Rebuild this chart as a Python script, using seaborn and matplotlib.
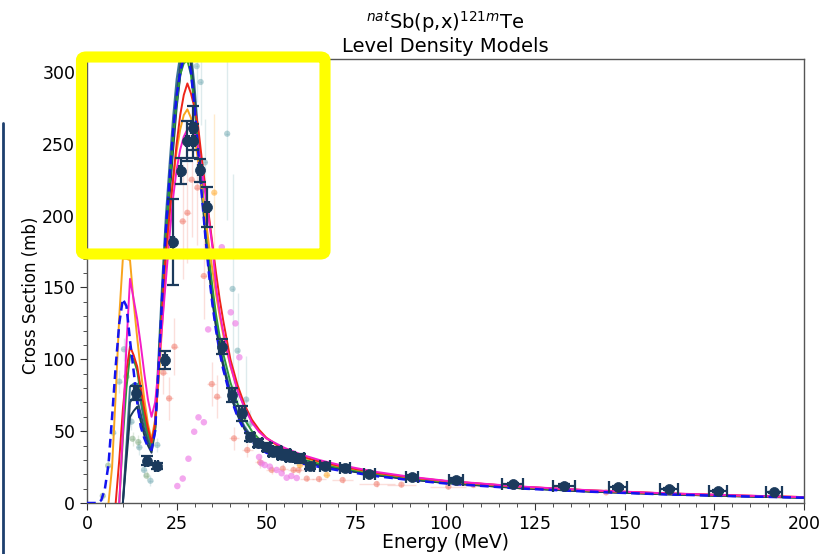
import numpy as np
import pandas as pd
import matplotlib
matplotlib.use("Agg")
import matplotlib.pyplot as plt
from matplotlib.patches import FancyBboxPatch
from matplotlib.lines import Line2D
from matplotlib.ticker import MultipleLocator
import seaborn as sns

# ---------------- data ----------------
# model energy grid (MeV)
grid_E = [0, 2, 3, 4, 5, 6, 7, 8, 9, 10, 11, 12, 13, 14, 15, 16, 17, 18, 19, 20,
          21, 22, 23, 24, 25, 26, 27, 28, 29, 30, 31, 32, 33, 34, 35, 36, 37, 38,
          40, 42, 44, 46, 48, 50, 55, 60, 65, 70, 80, 90, 100, 120, 140, 160, 180, 200]
N = np.nan
ld_navy = [N, N, N, N, N, N, N, N, N, 0, 30, 60, 64, 67, 57, 47, 40, 35, 50, 95,
           140, 180, 212, 245, 275, 297, 311, 316, 305, 278, 248, 216, 188, 162, 140, 122, 107, 95,
           75, 61, 51, 44, 39.5, 36, 31.5, 28.5, 26, 23.5, 19.5, 16.4, 13.9, 10.4, 8.0, 6.2, 4.8, 3.7]
ld_steel = [N, N, N, N, N, N, N, N, N, 0, 40, 81, 83, 83, 70, 56, 45, 39, 55, 105,
            155, 200, 235, 268, 295, 312, 322, 324, 314, 290, 258, 226, 196, 168, 145, 126, 110, 98,
            78, 63, 53, 46, 41, 37, 32.5, 29.2, 26.5, 24, 19.9, 16.7, 14.1, 10.6, 8.1, 6.3, 4.9, 3.8]
ld_slate = [N, N, N, N, N, N, N, N, N, 0, 35, 70, 74, 72, 62, 51, 43, 37, 52, 98,
            146, 188, 222, 255, 285, 305, 318, 321, 310, 284, 253, 221, 192, 165, 142, 124, 108, 96,
            76, 62, 52, 45, 40, 36.5, 32, 28.8, 26.2, 23.8, 19.7, 16.5, 14.0, 10.5, 8.0, 6.2, 4.8, 3.7]
ld_green = [N, N, N, N, N, N, N, N, 0, 45, 80, 103, 100, 92, 75, 60, 48, 40, 52, 95,
            143, 185, 220, 252, 278, 298, 306, 308, 298, 276, 250, 222, 196, 172, 150, 131, 116, 104,
            84, 69, 58, 50, 44.5, 40.5, 34.5, 30.5, 27.3, 24.8, 20.4, 17.2, 14.6, 11.0, 8.5, 6.6, 5.1, 3.9]
ld_red = [N, N, N, N, N, N, N, 0, 30, 65, 92, 109, 103, 95, 80, 65, 52, 42, 55, 95,
          135, 176, 200, 225, 250, 270, 284, 292, 285, 275, 262, 240, 220, 200, 180, 160, 142, 127,
          100, 82, 68, 58, 51, 45.5, 37, 32.3, 28.8, 26, 21.3, 17.9, 15.3, 11.5, 8.8, 6.8, 5.3, 4.1]
ld_orange = [N, N, N, N, N, 0, 25, 75, 130, 170, 170, 169, 140, 115, 92, 72, 55, 44, 58, 85,
             125, 165, 198, 225, 245, 260, 270, 274, 268, 255, 238, 220, 200, 180, 162, 145, 130, 117,
             95, 79, 66, 57, 50, 45, 37, 32, 28.5, 25.7, 21.1, 17.8, 15.2, 11.4, 8.8, 6.8, 5.3, 4.1]
ld_magenta = [N, N, N, N, N, N, N, N, 0, 50, 110, 156, 142, 128, 110, 90, 72, 60, 70, 95,
              125, 155, 185, 212, 232, 246, 255, 260, 262, 258, 248, 232, 215, 197, 178, 150, 133, 119,
              96, 78, 66, 56, 49.5, 45, 38.5, 33.5, 29.8, 26.8, 21.9, 18.3, 15.5, 11.6, 8.9, 6.9, 5.4, 4.1]
ld_blue = [0, 0, 0, 2, 10, 27, 60, 95, 125, 142, 137, 113, 92, 70, 53, 45, 39, 37, 50, 95,
           145, 190, 225, 258, 283, 300, 310, 312, 300, 275, 245, 215, 186, 160, 138, 120, 105, 93,
           74, 60, 50, 43, 38.5, 35, 30.5, 27.5, 25, 22.8, 18.9, 16.0, 13.6, 10.2, 7.9, 6.1, 4.8, 3.7]

# main experimental data (this work)
main_E = [13.7, 16.6, 19.4, 21.8, 23.9, 26.1, 28.0, 29.5, 29.7, 31.5, 33.4, 37.6, 40.4, 43.3,
          45.6, 47.7, 50.1, 51.9, 53.0, 54.3, 55.5, 56.6, 59.4, 62.2, 66.4, 72.0, 78.7, 90.7,
          102.9, 118.7, 133.1, 148.2, 162.3, 176.1, 191.7]
main_s = [76.5, 29.4, 26.0, 99.5, 181.4, 231, 252, 261, 252, 231.7, 206, 108.8, 75, 62.4,
          46, 41.7, 39, 35.7, 36, 33.4, 34, 32.2, 31, 25.7, 25.7, 24.1, 20, 18.3,
          16, 13.2, 12.1, 10.9, 9.7, 8.6, 7.4]
main_dy = [5, 3, 2, 6, 30, 9, 14, 15, 12, 8, 14, 5, 5, 5,
           3, 3, 3, 3, 3, 3, 3, 3, 3, 2, 2, 2, 1.5, 1.5,
           1.2, 1.0, 1.0, 0.9, 0.8, 0.7, 0.6]
main_dx = [0.5, 0.5, 0.5, 0.5, 0.5, 0.5, 0.5, 0.5, 0.5, 0.5, 0.5, 0.7, 0.8, 0.8,
           1.0, 1.0, 1.0, 1.0, 1.0, 1.0, 1.0, 1.0, 1.2, 1.2, 1.5, 1.5, 1.5, 1.6,
           2.0, 3.0, 3.0, 2.5, 2.5, 2.5, 2.2]

# literature data sets (faded)
teal_E = [7.3, 9.0, 10.3, 12.4, 14.6, 15.9, 17.7, 19.6, 30.6, 31.7, 32.9, 39.1, 40.6, 42.0, 44.4, 45.5]
teal_s = [49, 84.5, 107, 56.6, 38.7, 23, 15.5, 40.4, 304, 293, 237, 257, 149, 106, 72, 55]
teal_dy = [5, 8, 8, 6, 5, 4, 4, 5, 25, 30, 30, 60, 80, 40, 30, 10]
teal_dx = [0.8, 0.8, 0.8, 0.8, 0.8, 0.8, 0.8, 0.8, 0.5, 0.5, 0.5, 0.5, 0.5, 0.5, 0.5, 0.5]

green_E = [4.4, 5.9, 11.0, 12.7, 14.3, 16.6]
green_s = [5, 26, 88, 44.7, 42.4, 19]
green_dy = [3, 4, 8, 5, 5, 3]
green_dx = [0.7, 0.7, 0.7, 0.7, 0.7, 0.7]

salmon_E = [21.3, 22.9, 24.4, 26.7, 28.0, 29.2, 30.8, 32.6, 34.8, 36.3, 41.0, 44.7, 48.3,
            51.5, 54.6, 57.6, 59.0, 61.3, 64.7, 71.3, 80.8, 87.7, 100.8, 107.8, 120.8, 144.8]
salmon_s = [90.7, 72.8, 108.8, 196, 202, 225, 219.5, 158, 82.8, 74, 45, 36.9, 28.3,
            23, 23.9, 23, 23, 17, 16.7, 16, 13.2, 12.8, 11.4, 12.5, 11.4, 7.4]
salmon_dy = [15, 15, 20, 40, 35, 40, 40, 30, 15, 15, 8, 5, 4,
             3, 3, 3, 3, 2, 2, 2, 2, 2, 1.5, 1.5, 1.5, 1]
salmon_dx = [1.0, 1.0, 1.0, 1.0, 1.0, 1.0, 1.0, 1.0, 1.2, 1.2, 1.5, 1.5, 1.5,
             1.5, 1.5, 1.5, 1.5, 2, 2, 3, 5, 4, 5, 5, 5, 5]

orange_E = [35.5, 59.4, 66.9]
orange_s = [216, 26.4, 19.5]
orange_dy = [55, 2, 2]

violet_E = [25.2, 26.7, 28.3, 29.9, 31.1, 32.6, 33.8, 37.6, 40.1, 41.4, 42.5,
            48.0, 48.7, 49.6, 51.0, 52.9, 54.3, 55.7, 57.0, 58.5]
violet_s = [11.8, 17, 30.8, 49.6, 59.6, 56.2, 120.8, 178, 132.7, 125, 101.4,
            32, 27.6, 26.4, 25.3, 23, 20.7, 17.6, 18.8, 17.4]

# ---------------- plotting ----------------
sns.set_style("ticks")
plt.rcParams['font.family'] = ['DejaVu Sans']
plt.rcParams['mathtext.fontset'] = 'dejavusans'
plt.rcParams['text.color'] = 'black'
plt.rcParams['axes.labelcolor'] = 'black'
plt.rcParams['xtick.color'] = 'black'
plt.rcParams['ytick.color'] = 'black'

fig = plt.figure(figsize=(8.21, 5.54), dpi=100)
ax = fig.add_axes([87 / 821, 51 / 554, 717 / 821, 444 / 554])

# faded literature data
def faded(E, s, dy, dx, color, alpha, size=4.5):
    ax.errorbar(E, s, yerr=dy, xerr=dx, fmt='none', ecolor=color, alpha=alpha * 0.45,
                elinewidth=1.0, zorder=1)
    sns.scatterplot(x=E, y=s, ax=ax, color=color, alpha=alpha, s=size ** 2,
                    edgecolor='none', zorder=2)

faded(teal_E, teal_s, teal_dy, teal_dx, '#5f9ea8', 0.45)
faded(green_E, green_s, green_dy, green_dx, '#6f9f6f', 0.45)
faded(salmon_E, salmon_s, salmon_dy, salmon_dx, '#f07060', 0.5)
faded(orange_E, orange_s, orange_dy, [0.5, 1, 1], '#ffa520', 0.5)
sns.scatterplot(x=violet_E, y=violet_s, ax=ax, color='#ee7ae6', alpha=0.65, s=22,
                edgecolor='none', zorder=2)

# model curves
curves = [
    (ld_steel, '#3a7595', '-', 1.4),
    (ld_slate, '#2b5068', '-', 1.4),
    (ld_navy, '#18395a', '-', 1.4),
    (ld_green, '#2e9a3a', '-', 1.4),
    (ld_orange, '#f8a41c', '-', 1.4),
    (ld_red, '#ee2418', '-', 1.4),
    (ld_magenta, '#f41cc8', '-', 1.4),
]
for vals, col, ls, lw in curves:
    df = pd.DataFrame({'E': grid_E, 'xs': vals}).dropna()
    sns.lineplot(data=df, x='E', y='xs', ax=ax, color=col, linestyle=ls, linewidth=lw,
                 zorder=3, estimator=None, sort=False)
dfb = pd.DataFrame({'E': grid_E, 'xs': ld_blue}).dropna()
sns.lineplot(data=dfb, x='E', y='xs', ax=ax, color='#1414f0', linewidth=1.8,
             zorder=4, estimator=None, sort=False, dashes=False)
ax.lines[-1].set_linestyle((0, (3.5, 2)))

# main data
ax.errorbar(main_E, main_s, yerr=main_dy, xerr=main_dx, fmt='none', ecolor='#1b3a5c',
            elinewidth=1.6, capsize=4.5, capthick=1.6, zorder=5)
sns.scatterplot(x=main_E, y=main_s, ax=ax, color='#1b3a5c', s=52, edgecolor='#1b3a5c',
                linewidth=0.5, zorder=6)

ax.set_xlim(0, 200)
ax.set_ylim(0, 309)
ax.xaxis.set_major_locator(MultipleLocator(25))
ax.xaxis.set_minor_locator(MultipleLocator(5))
ax.yaxis.set_major_locator(MultipleLocator(50))
ax.yaxis.set_minor_locator(MultipleLocator(10))
ax.tick_params(axis='both', which='major', labelsize=12.5, length=5, direction='out',
               color='#333333', labelcolor='black')
ax.tick_params(axis='both', which='minor', length=3, direction='out', color='#333333')
for sp in ax.spines.values():
    sp.set_color('#555555')
    sp.set_linewidth(1.0)
ax.set_xlabel('Energy (MeV)', fontsize=13.5, labelpad=0, color='black')
ax.set_ylabel('Cross Section (mb)', fontsize=12, color='black')
ax.yaxis.set_label_coords(-0.066, 0.468)
ax.set_title('$^{nat}$Sb(p,x)$^{121m}$Te\nLevel Density Models', fontsize=14, pad=5,
             linespacing=1.15, color='black')

# overlay annotations present in the reference image
box = FancyBboxPatch((81.5 / 821, (554 - 254) / 554), (325 - 81.5) / 821, (254 - 57) / 554,
                     boxstyle='round,pad=0,rounding_size=0.006', transform=fig.transFigure,
                     fill=False, edgecolor='#ffff00', linewidth=8.0, zorder=20)
fig.add_artist(box)
fig.add_artist(Line2D([3 / 821, 3 / 821], [0, (554 - 123) / 554], transform=fig.transFigure,
                      color='#1d3f6e', linewidth=2.0))

fig.savefig('out.png', dpi=100)
